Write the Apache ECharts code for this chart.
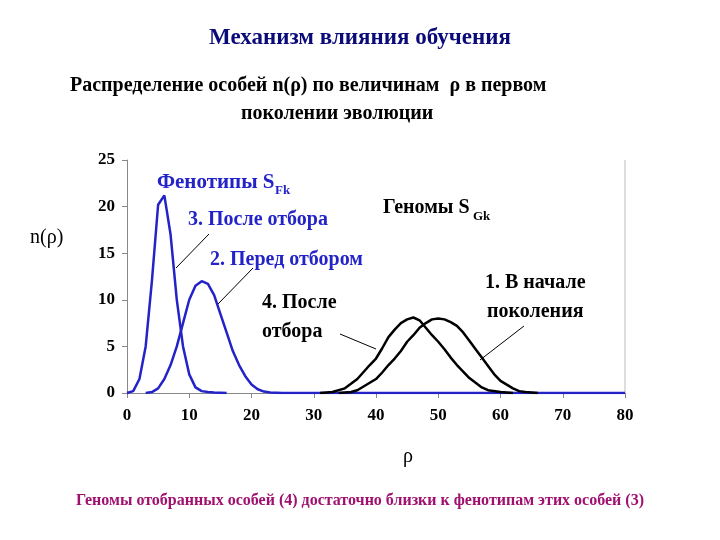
<!DOCTYPE html>
<html>
<head>
<meta charset="utf-8">
<script src="https://cdn.jsdelivr.net/npm/echarts@6/dist/echarts.min.js"></script>
<style>html,body{margin:0;padding:0;background:#fff}#main{width:720px;height:540px}</style>
</head>
<body>
<div id="main"></div>
<script>
// кривые n(rho)
var xAfterF = [0, 1, 2, 3, 4, 5, 6, 7, 8, 9, 10, 11, 12, 13, 14, 16];
var yAfterF = [0, 0.2, 1.5, 5, 12, 20.2, 21.2, 17, 10, 5, 2, 0.6, 0.2, 0.1, 0.05, 0];
var xBeforeF = [3, 4, 5, 6, 7, 8, 9, 10, 11, 12, 13, 14, 15, 16, 17, 18, 19, 20, 21, 22, 23, 25, 80];
var yBeforeF = [0, 0.1, 0.5, 1.5, 3, 5, 7.5, 10, 11.5, 12, 11.7, 10.5, 8.5, 6.5, 4.5, 3, 1.8, 0.9, 0.4, 0.15, 0.05, 0, 0];
var xAfterG = [31, 33, 35, 37, 39, 40, 41, 42, 43, 44, 45, 46, 47, 48, 49, 50, 51, 52, 53, 54, 55, 56, 57, 58, 60, 62];
var yAfterG = [0, 0.1, 0.5, 1.5, 3, 3.7, 4.8, 6, 6.8, 7.5, 7.9, 8.1, 7.8, 7, 6.2, 5.5, 4.7, 3.8, 3, 2.3, 1.6, 1.1, 0.6, 0.3, 0.1, 0];
var xStartG = [34, 36, 37, 38, 39, 40, 41, 42, 43, 44, 45, 46, 47, 48, 49, 50, 51, 52, 53, 54, 55, 56, 57, 58, 59, 60, 61, 62, 63, 64, 66];
var yStartG = [0, 0.1, 0.3, 0.7, 1.1, 1.5, 2.2, 3, 3.7, 4.5, 5.5, 6.2, 7, 7.5, 7.9, 8, 7.9, 7.6, 7.2, 6.5, 5.6, 4.7, 3.8, 2.9, 2, 1.3, 0.9, 0.5, 0.2, 0.1, 0];

function pairs(xs, ys) {
	var out = [];
	for (var i = 0; i < xs.length; i++) out.push([xs[i], ys[i]]);
	return out;
}

var font = '"Liberation Serif", "DejaVu Serif", serif';
var blue = '#2323c8';
var myChart = echarts.init(document.getElementById('main'));

function line(data, color) {
	return {
		type : 'line',
		data : data,
		symbol : 'none',
		lineStyle : { color : color, width : 2.5 },
		z : 3
	};
}
function txt(x, y, s, color, size, style) {
	return { type : 'text', left : x, top : y, style : { text : s, fill : color, font : (style || 'bold') + ' ' + (size || 20) + 'px ' + font } };
}
function lead(x1, y1, x2, y2) {
	return { type : 'line', shape : { x1 : x1, y1 : y1, x2 : x2, y2 : y2 }, style : { stroke : '#000', lineWidth : 1 } };
}

var option = {
	animation : false,
	grid : { left : 127, right : 95, top : 160, bottom : 147 },
	xAxis : {
		type : 'value', min : 0, max : 80, interval : 10,
		axisLine : { lineStyle : { color : '#888' } },
		axisTick : { lineStyle : { color : '#888' } },
		splitLine : { show : false },
		axisLabel : { color : '#000', fontFamily : font, fontWeight : 'bold', fontSize : 17, margin : 14 }
	},
	yAxis : {
		type : 'value', min : 0, max : 25, interval : 5,
		axisLine : { show : true, lineStyle : { color : '#888' } },
		axisTick : { show : true, lineStyle : { color : '#888' } },
		splitLine : { show : false },
		axisLabel : { color : '#000', fontFamily : font, fontWeight : 'bold', fontSize : 17, margin : 12 }
	},
	series : [
		line(pairs(xBeforeF, yBeforeF), blue),
		line(pairs(xAfterF, yAfterF), blue),
		line(pairs(xAfterG, yAfterG), '#000'),
		line(pairs(xStartG, yStartG), '#000')
	],
	graphic : [
		{ type : 'line', shape : { x1 : 625, y1 : 160, x2 : 625, y2 : 393 }, style : { stroke : '#bbb', lineWidth : 1 } },
		txt('center', 27, 'Механизм влияния обучения', '#0a0a78', 23),
		txt(70, 76, 'Распределение особей n(ρ) по величинам  ρ в первом', '#000', 20),
		txt(241, 104, 'поколении эволюции', '#000', 20),
		txt(30, 228, 'n(ρ)', '#000', 20, 'normal'),
		txt(157, 172, 'Фенотипы S', blue, 21),
		txt(275, 184, 'Fk', blue, 13),
		txt(383, 198, 'Геномы S', '#000', 20),
		txt(473, 210, 'Gk', '#000', 13),
		txt(188, 210, '3. После отбора', blue, 20),
		txt(210, 250, '2. Перед отбором', blue, 20),
		txt(262, 293, '4. После', '#000', 20),
		txt(262, 322, 'отбора', '#000', 20),
		txt(485, 273, '1. В начале', '#000', 20),
		txt(487, 302, 'поколения', '#000', 20),
		txt(403, 447, 'ρ', '#000', 20, 'normal'),
		txt('center', 493, 'Геномы отобранных особей (4) достаточно близки к фенотипам этих особей (3)', '#a0106e', 16),
		lead(176, 268, 209, 234),
		lead(218, 304, 253, 268),
		lead(340, 334, 376, 349),
		lead(480, 360, 524, 326)
	]
};
myChart.setOption(option);
</script>
</body>
</html>
